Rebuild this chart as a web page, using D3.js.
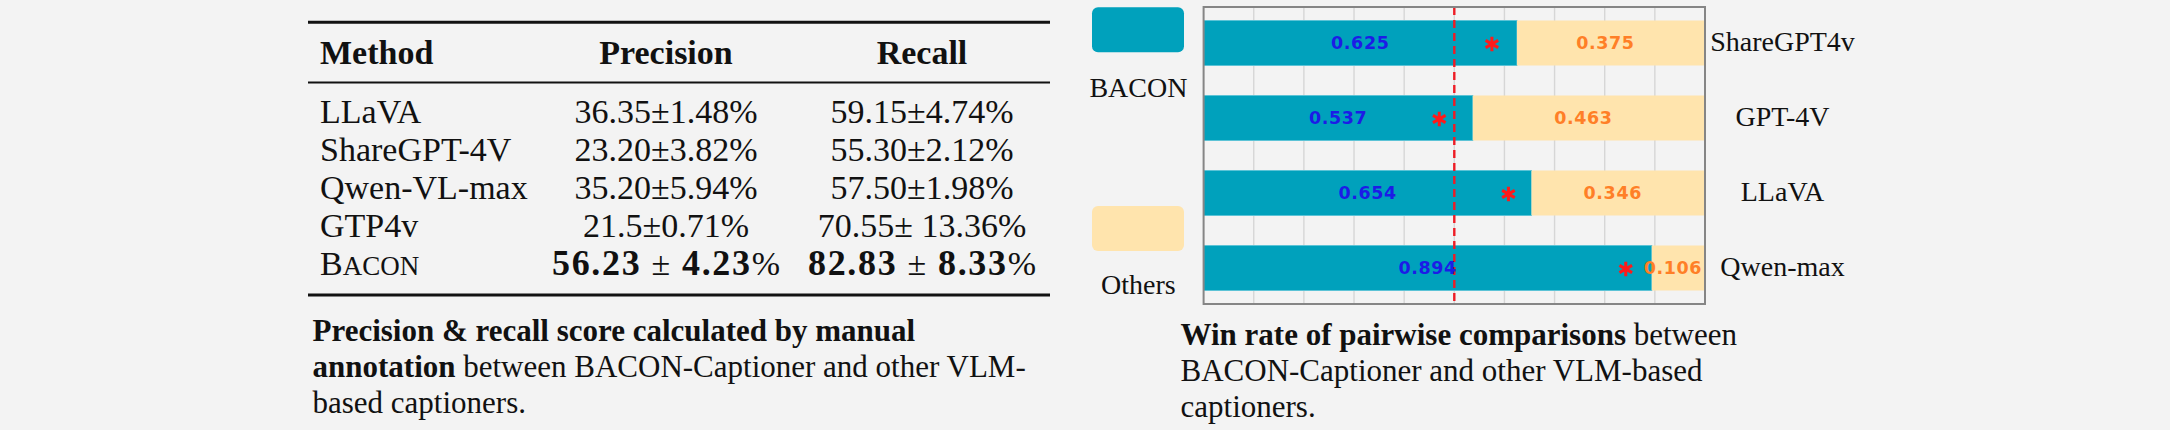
<!DOCTYPE html>
<html>
<head>
<meta charset="utf-8">
<script src="https://cdn.jsdelivr.net/npm/d3@7"></script>
<style>
  html, body { margin: 0; padding: 0; background: #f3f3f3; }
  svg { display: block; }
</style>
</head>
<body>
<svg id="fig" width="2170" height="430"></svg>
<script>
// ---------------- DATA ----------------
// Left: table
const tableHeaders = ["Method", "Precision", "Recall"];
const methods = ["LLaVA", "ShareGPT-4V", "Qwen-VL-max", "GTP4v", "BACON"];
const precisionText = ["36.35±1.48%", "23.20±3.82%", "35.20±5.94%", "21.5±0.71%", "56.23 ± 4.23%"];
const recallText = ["59.15±4.74%", "55.30±2.12%", "57.50±1.98%", "70.55± 13.36%", "82.83 ± 8.33%"];
// Right: win-rate chart
const models = ["ShareGPT4v", "GPT-4V", "LLaVA", "Qwen-max"];
const baconWin = [0.625, 0.537, 0.654, 0.894];
const othersWin = [0.375, 0.463, 0.346, 0.106];
const starAt = [0.575, 0.470, 0.608, 0.842];
const legendLabels = ["BACON", "Others"];
const xTicks = [0.1, 0.2, 0.3, 0.4, 0.5, 0.6, 0.7, 0.8, 0.9];
const threshold = 0.5;

// ---------------- STYLE ----------------
const SERIF = "'Liberation Serif', 'Times New Roman', serif";
const SANS = "'DejaVu Sans', Verdana, sans-serif";
const TEAL = "#00a1bc";
const PEACH = "#ffe4ad";
const svg = d3.select("#fig");

// ---------------- TABLE ----------------
const tbl = svg.append("g");
const tX0 = 308, tX1 = 1050;
const colX = [320, 666, 922];
[[22.3, 3], [82.5, 2], [295, 3]].forEach(([y, w]) => {
  tbl.append("line").attr("x1", tX0).attr("x2", tX1).attr("y1", y).attr("y2", y)
    .attr("stroke", "#111").attr("stroke-width", w);
});
tableHeaders.forEach((h, i) => {
  tbl.append("text").attr("x", colX[i]).attr("y", 64)
    .attr("text-anchor", i === 0 ? "start" : "middle")
    .attr("font-family", SERIF).attr("font-weight", "bold").attr("font-size", 34)
    .attr("fill", "#111").text(h);
});
const rowY = d3.scaleLinear().domain([0, methods.length - 1]).range([123, 275]);
methods.forEach((m, i) => {
  const y = rowY(i);
  const t = tbl.append("text").attr("x", colX[0]).attr("y", y)
    .attr("font-family", SERIF).attr("font-size", 34).attr("fill", "#111");
  if (m === "BACON") {
    t.append("tspan").text("B");
    t.append("tspan").attr("font-size", 27).text("ACON");
  } else t.text(m);
  [precisionText[i], recallText[i]].forEach((s, j) => {
    const tt = tbl.append("text").attr("x", colX[j + 1]).attr("y", y)
      .attr("text-anchor", "middle").attr("font-family", SERIF)
      .attr("font-size", 34).attr("fill", "#111");
    if (i === methods.length - 1) {
      // bold math row: "a ± b%"
      const parts = s.replace("%", "").split("±").map(d => d.trim());
      tt.append("tspan").attr("font-weight", "bold").attr("font-size", 36).text(parts[0]);
      tt.append("tspan").text(" ± ");
      tt.append("tspan").attr("font-weight", "bold").attr("font-size", 36).text(parts[1]);
      tt.append("tspan").text("%");
      tt.attr("textLength", 228).attr("lengthAdjust", "spacing");
    } else tt.text(s);
  });
});

// Left caption
const capL = svg.append("g").attr("font-family", SERIF).attr("font-size", 31).attr("fill", "#111");
const l1 = capL.append("text").attr("x", 312.5).attr("y", 340.7);
l1.append("tspan").attr("font-weight", "bold").text("Precision & recall score calculated by manual");
const l2 = capL.append("text").attr("x", 312.5).attr("y", 377.3);
l2.append("tspan").attr("font-weight", "bold").text("annotation");
l2.append("tspan").text(" between BACON-Captioner and other VLM-");
capL.append("text").attr("x", 312.5).attr("y", 413.3).text("based captioners.");

// ---------------- WIN-RATE CHART ----------------
const plotL = 1203.6, plotR = 1705, plotT = 7, plotB = 304;
const x = d3.scaleLinear().domain([0, 1]).range([plotL, plotR]);
const y = d3.scaleBand().domain(models).range([plotT, plotB]).paddingInner(0.4).paddingOuter(0.18);

const chart = svg.append("g");
// grid
chart.append("g").selectAll("line").data(xTicks).join("line")
  .attr("x1", d => x(d)).attr("x2", d => x(d))
  .attr("y1", plotT).attr("y2", plotB)
  .attr("stroke", "#d6d6d6").attr("stroke-width", 1.4);

// bars
const rows = models.map((m, i) => ({ m, b: baconWin[i], o: othersWin[i], s: starAt[i] }));
chart.append("g").selectAll("rect").data(rows).join("rect")
  .attr("x", x(0)).attr("y", d => y(d.m))
  .attr("width", d => x(d.b) - x(0)).attr("height", y.bandwidth())
  .attr("fill", TEAL).attr("stroke", "#5cc3d6").attr("stroke-width", 1);
chart.append("g").selectAll("rect").data(rows).join("rect")
  .attr("x", d => x(d.b)).attr("y", d => y(d.m))
  .attr("width", d => x(1) - x(d.b)).attr("height", y.bandwidth())
  .attr("fill", PEACH);

// threshold line
chart.append("line").attr("x1", x(threshold)).attr("x2", x(threshold))
  .attr("y1", plotT).attr("y2", plotB)
  .attr("stroke", "#ee1c25").attr("stroke-width", 2.4).attr("stroke-dasharray", "8,5");

// value labels
chart.append("g").selectAll("text").data(rows).join("text")
  .attr("x", d => (x(0) + x(d.b)) / 2).attr("y", d => y(d.m) + y.bandwidth() / 2)
  .attr("dy", "0.36em").attr("text-anchor", "middle")
  .attr("font-family", SANS).attr("font-weight", "bold").attr("font-size", 17.5)
  .attr("letter-spacing", 0.6).attr("fill", "#1c1ce6").text(d => d.b.toFixed(3));
chart.append("g").selectAll("text").data(rows).join("text")
  .attr("x", d => (x(d.b) + x(1)) / 2 - 5.5).attr("y", d => y(d.m) + y.bandwidth() / 2)
  .attr("dy", "0.36em").attr("text-anchor", "middle")
  .attr("font-family", SANS).attr("font-weight", "bold").attr("font-size", 17.5)
  .attr("letter-spacing", 0.6).attr("fill", "#ff7f27").text(d => d.o.toFixed(3));

// significance stars
const star = d3.symbol().type(d3.symbolAsterisk).size(150);
chart.append("g").selectAll("path").data(rows).join("path")
  .attr("transform", d => `translate(${x(d.s)},${y(d.m) + y.bandwidth() / 2 + 1})`)
  .attr("d", star).attr("fill", "none").attr("stroke", "#ff1a1a").attr("stroke-width", 3);

// frame
chart.append("rect").attr("x", plotL).attr("y", plotT)
  .attr("width", plotR - plotL).attr("height", plotB - plotT)
  .attr("fill", "none").attr("stroke", "#858585").attr("stroke-width", 2);

// category labels (right)
chart.append("g").selectAll("text").data(models).join("text")
  .attr("x", 1782.5).attr("y", d => y(d) + y.bandwidth() / 2 + 7.5)
  .attr("text-anchor", "middle").attr("font-family", SERIF).attr("font-size", 28)
  .attr("fill", "#111").text(d => d);

// legend
const legColors = [TEAL, PEACH];
const legBoxY = [7.3, 206];
const legTextY = [96.7, 294];
legendLabels.forEach((lab, i) => {
  chart.append("rect").attr("x", 1092).attr("y", legBoxY[i]).attr("width", 92).attr("height", 45)
    .attr("rx", 6).attr("fill", legColors[i]);
  chart.append("text").attr("x", 1138.4).attr("y", legTextY[i]).attr("text-anchor", "middle")
    .attr("font-family", SERIF).attr("font-size", 28).attr("fill", "#111").text(lab);
});

// Right caption
const capR = svg.append("g").attr("font-family", SERIF).attr("font-size", 31).attr("fill", "#111");
const r1 = capR.append("text").attr("x", 1180.5).attr("y", 345);
r1.append("tspan").attr("font-weight", "bold").text("Win rate of pairwise comparisons");
r1.append("tspan").text(" between");
capR.append("text").attr("x", 1180.5).attr("y", 381).text("BACON-Captioner and other VLM-based");
capR.append("text").attr("x", 1180.5).attr("y", 417).text("captioners.");
</script>
</body>
</html>
